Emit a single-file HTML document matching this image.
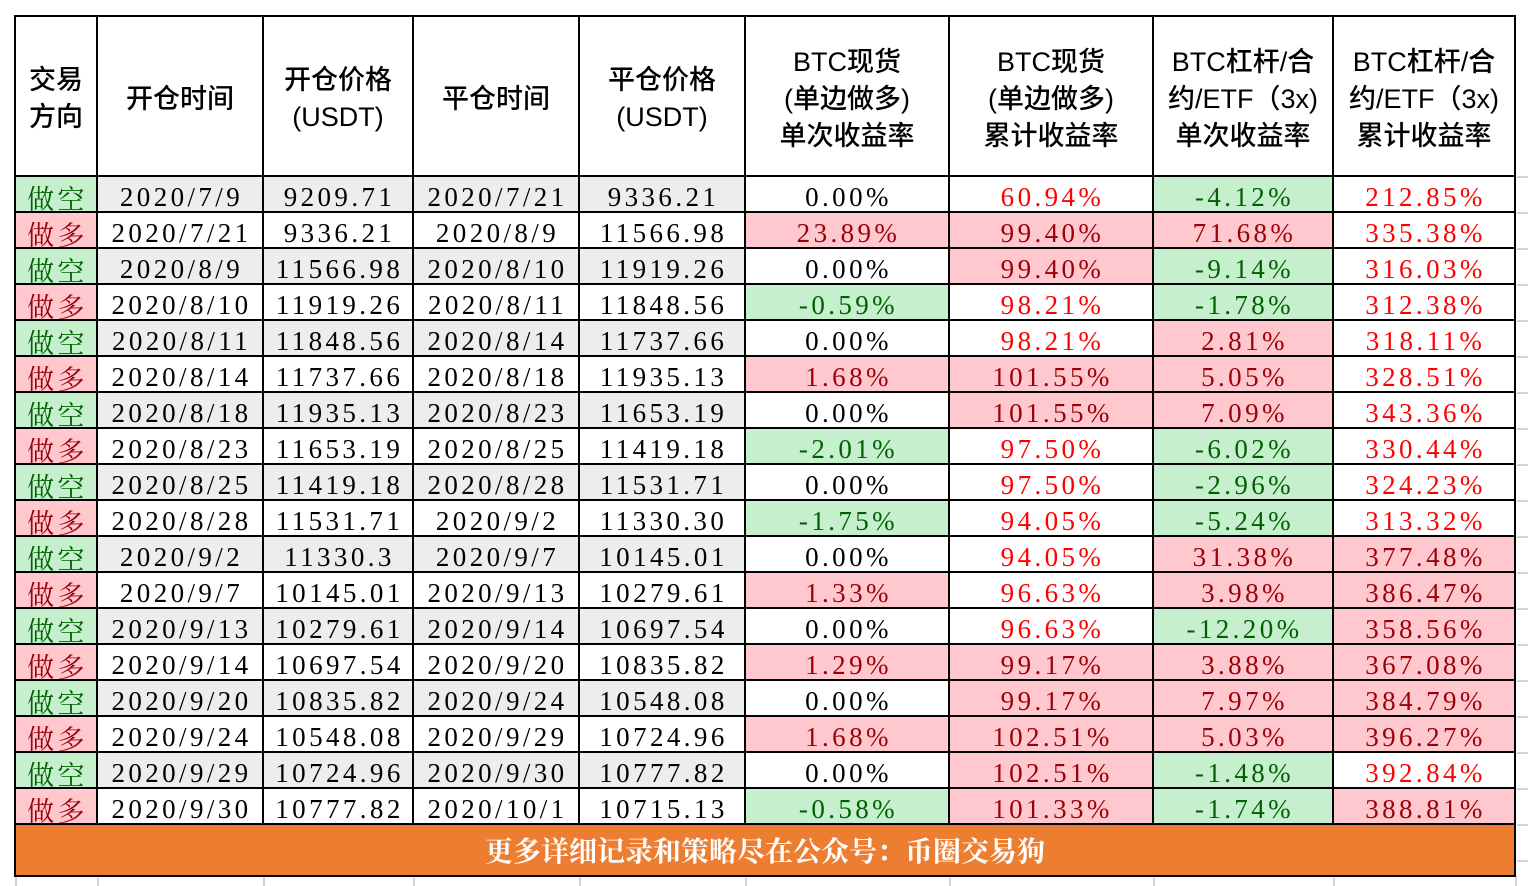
<!DOCTYPE html>
<html><head><meta charset="utf-8">
<style>
html,body{margin:0;padding:0;background:#fff;width:1528px;height:886px;overflow:hidden;position:relative}
.c{position:absolute;box-sizing:border-box;display:flex;align-items:center;justify-content:center;text-align:center;white-space:nowrap}
.h{font-family:"Liberation Sans","Noto Sans CJK SC",sans-serif;font-size:27px;line-height:37px;color:#000;font-weight:500;padding-top:6px}
.d{font-family:"Liberation Serif","Noto Serif CJK SC",serif;font-size:27px;letter-spacing:3.4px;padding-top:6px;padding-left:3px}
.vl{position:absolute;background:#000;width:2px}
.hl{position:absolute;background:#000;height:2px}
.gl{position:absolute;background:#d4d4d4}
.foot{font-family:"Liberation Serif","Noto Serif CJK SC",serif;font-weight:bold;color:#fff;font-size:28px;background:#ed7d31}
</style></head>
<body>
<div id="root"></div>
<script>
const headers=["交易<br>方向","开仓时间","开仓价格<br>(USDT)","平仓时间","平仓价格<br>(USDT)","BTC现货<br>(单边做多)<br>单次收益率","BTC现货<br>(单边做多)<br>累计收益率","BTC杠杆/合<br>约/ETF（3x)<br>单次收益率","BTC杠杆/合<br>约/ETF（3x)<br>累计收益率"];
const directions=["做空","做多","做空","做多","做空","做多","做空","做多","做空","做多","做空","做多","做空","做多","做空","做多","做空","做多"];
const openTimes=["2020/7/9","2020/7/21","2020/8/9","2020/8/10","2020/8/11","2020/8/14","2020/8/18","2020/8/23","2020/8/25","2020/8/28","2020/9/2","2020/9/7","2020/9/13","2020/9/14","2020/9/20","2020/9/24","2020/9/29","2020/9/30"];
const openPrices=["9209.71","9336.21","11566.98","11919.26","11848.56","11737.66","11935.13","11653.19","11419.18","11531.71","11330.3","10145.01","10279.61","10697.54","10835.82","10548.08","10724.96","10777.82"];
const closeTimes=["2020/7/21","2020/8/9","2020/8/10","2020/8/11","2020/8/14","2020/8/18","2020/8/23","2020/8/25","2020/8/28","2020/9/2","2020/9/7","2020/9/13","2020/9/14","2020/9/20","2020/9/24","2020/9/29","2020/9/30","2020/10/1"];
const closePrices=["9336.21","11566.98","11919.26","11848.56","11737.66","11935.13","11653.19","11419.18","11531.71","11330.30","10145.01","10279.61","10697.54","10835.82","10548.08","10724.96","10777.82","10715.13"];
const spotSingle=["0.00%","23.89%","0.00%","-0.59%","0.00%","1.68%","0.00%","-2.01%","0.00%","-1.75%","0.00%","1.33%","0.00%","1.29%","0.00%","1.68%","0.00%","-0.58%"];
const spotCum=["60.94%","99.40%","99.40%","98.21%","98.21%","101.55%","101.55%","97.50%","97.50%","94.05%","94.05%","96.63%","96.63%","99.17%","99.17%","102.51%","102.51%","101.33%"];
const spotCumHi=[0,1,1,0,0,1,1,0,0,0,0,0,0,1,1,1,1,1];
const levSingle=["-4.12%","71.68%","-9.14%","-1.78%","2.81%","5.05%","7.09%","-6.02%","-2.96%","-5.24%","31.38%","3.98%","-12.20%","3.88%","7.97%","5.03%","-1.48%","-1.74%"];
const levCum=["212.85%","335.38%","316.03%","312.38%","318.11%","328.51%","343.36%","330.44%","324.23%","313.32%","377.48%","386.47%","358.56%","367.08%","384.79%","396.27%","392.84%","388.81%"];
const levCumHi=[0,0,0,0,0,0,0,0,0,0,1,1,1,1,1,1,0,1];

const xs=[15,97,263,413,579,745,949,1153,1333,1515];
const top0=16,hdrH=160,rowH=36,footH=52;
const root=document.getElementById('root');
const G={bg:"#c6efce",fg:"#006100"},P={bg:"#ffc7ce",fg:"#9c0006"};
function cell(x0,x1,y0,h,html,cls,bg,fg){
  const e=document.createElement('div');
  e.className='c '+cls;
  e.style.left=x0+'px';e.style.top=y0+'px';e.style.width=(x1-x0)+'px';e.style.height=h+'px';
  if(bg)e.style.background=bg; if(fg)e.style.color=fg;
  e.innerHTML=html;root.appendChild(e);return e;
}
const bottom=top0+hdrH+directions.length*rowH+footH;
for(const x of xs){const g=document.createElement('div');g.className='gl';g.style.left=x+'px';g.style.top=bottom+'px';g.style.width='2px';g.style.height=(886-bottom)+'px';root.appendChild(g);}
for(let i=0;i<=directions.length+1;i++){const y=top0+hdrH+i*rowH;const g=document.createElement('div');g.className='gl';g.style.left='1517px';g.style.top=y+'px';g.style.width='11px';g.style.height='2px';root.appendChild(g);}
headers.forEach((t,i)=>{
  const e=cell(xs[i],xs[i+1],top0,hdrH,t,'h');
  
  
});
directions.forEach((d,r)=>{
  const y=top0+hdrH+r*rowH;
  const isShort=d==="做空";
  const gray=isShort?"#ededed":"#fff";
  let e;
  e=cell(xs[0],xs[1],y,rowH,d,'d',isShort?G.bg:P.bg,isShort?G.fg:P.fg);
  
  
  const mid=[openTimes[r],openPrices[r],closeTimes[r],closePrices[r]];
  mid.forEach((v,k)=>{
    e=cell(xs[k+1],xs[k+2],y,rowH,v,'d',gray,'#000');
    
    
  });
  const s=spotSingle[r];const sv=parseFloat(s);
  e=cell(xs[5],xs[6],y,rowH,s,'d',sv>0?P.bg:sv<0?G.bg:'#fff',sv>0?P.fg:sv<0?G.fg:'#000');
  
  
  e=cell(xs[6],xs[7],y,rowH,spotCum[r],'d',spotCumHi[r]?P.bg:'#fff',spotCumHi[r]?P.fg:'#ff0000');
  
  
  const l=parseFloat(levSingle[r]);
  e=cell(xs[7],xs[8],y,rowH,levSingle[r],'d',l<0?G.bg:P.bg,l<0?G.fg:P.fg);
  
  
  e=cell(xs[8],xs[9],y,rowH,levCum[r],'d',levCumHi[r]?P.bg:'#fff',levCumHi[r]?P.fg:'#ff0000');
  
  
});
const fy=top0+hdrH+directions.length*rowH;
const f=cell(xs[0],xs[9],fy,footH,'更多详细记录和策略尽在公众号：币圈交易狗','foot');


for(const x of xs){const v=document.createElement('div');v.className='vl';v.style.left=(x-1)+'px';v.style.top=top0+'px';v.style.height=(fy-top0)+'px';root.appendChild(v);}
[xs[0],xs[9]].forEach(x=>{const v=document.createElement('div');v.className='vl';v.style.left=(x-1)+'px';v.style.top=fy+'px';v.style.height=footH+'px';root.appendChild(v);});
const ys=[top0];for(let i=0;i<=directions.length;i++)ys.push(top0+hdrH+i*rowH);ys.push(bottom);
for(const y of ys){const h=document.createElement('div');h.className='hl';h.style.left=(xs[0]-1)+'px';h.style.top=(y-1)+'px';h.style.width=(xs[9]-xs[0]+2)+'px';root.appendChild(h);}
</script>
</body></html>
